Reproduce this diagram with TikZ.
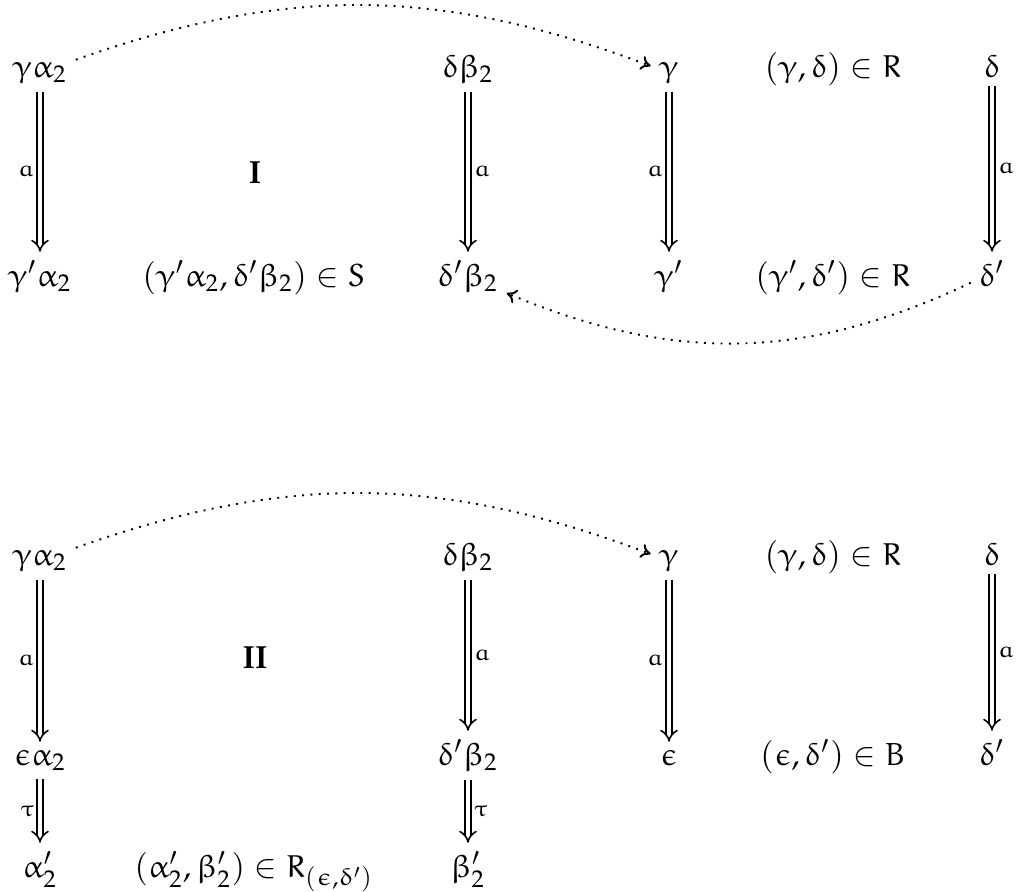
\documentclass[tikz,border=0pt]{standalone}
\usepackage{mathpazo}
\DeclareSymbolFont{eul}{U}{eur}{m}{n}
\DeclareMathSymbol{\eulalpha}{\mathord}{eul}{"0B}
\DeclareMathSymbol{\eulbeta}{\mathord}{eul}{"0C}
\DeclareMathSymbol{\eulgamma}{\mathord}{eul}{"0D}
\DeclareMathSymbol{\euldelta}{\mathord}{eul}{"0E}
\DeclareMathSymbol{\eulepsilon}{\mathord}{eul}{"0F}
\DeclareMathSymbol{\eultau}{\mathord}{eul}{"1C}
\DeclareMathSymbol{\eula}{\mathord}{eul}{"61}
\DeclareMathSymbol{\eulR}{\mathord}{eul}{"52}
\DeclareMathSymbol{\eulS}{\mathord}{eul}{"53}
\DeclareMathSymbol{\eulB}{\mathord}{eul}{"42}
\usetikzlibrary{arrows.meta}
\begin{document}
\begin{tikzpicture}[x=0.3125pt,y=-0.3125pt,
  cell/.style={anchor=base, inner sep=2.5pt},
  dbl/.style={double, double distance=1.4pt, line width=0.5pt, -{Implies}},
  lbl/.style={inner sep=1.5pt, font=\scriptsize},
  roman/.style={anchor=base, font=\usefont{OT1}{ppl}{b}{n}},
  dots/.style={line width=0.6pt, dash pattern=on 0.6pt off 2pt, -{To[length=3pt,width=4.5pt]}}]
\useasboundingbox (0,0) rectangle (1022,891);
% top diagram
\node[cell] (a1) at (40,77) {$\eulgamma\eulalpha_2$};
\node[cell] (b1) at (468,77) {$\euldelta\eulbeta_2$};
\node[cell] (c1) at (669,77) {$\eulgamma$};
\node[cell] (d1) at (833,77) {$(\eulgamma,\euldelta)\in\eulR$};
\node[cell] (e1) at (992,77) {$\euldelta$};
\node[cell] (a2) at (40,286) {$\eulgamma'\eulalpha_2$};
\node[cell] (s2) at (254,286) {$(\eulgamma'\eulalpha_2,\euldelta'\eulbeta_2)\in\eulS$};
\node[cell] (b2) at (468,286) {$\euldelta'\eulbeta_2$};
\node[cell] (c2) at (669,286) {$\eulgamma'$};
\node[cell] (d2) at (833,286) {$(\eulgamma',\euldelta')\in\eulR$};
\node[cell] (e2) at (992,286) {$\euldelta'$};
\node[roman] (one) at (255,183) {I};
\draw[dbl] (a1) -- node[lbl,left]{$\eula$} (a2);
\draw[dbl] (b1) -- node[lbl,right]{$\eula$} (b2);
\draw[dbl] (c1) -- node[lbl,left]{$\eula$} (c2);
\draw[dbl] (e1) -- node[lbl,right]{$\eula$} (e2);
\draw[dots] (a1) to[bend left=20] (c1);
\draw[dots] (e2) to[bend left=24] (b2);
% bottom diagram
\node[cell] (p1) at (40,565) {$\eulgamma\eulalpha_2$};
\node[cell] (q1) at (468,565) {$\euldelta\eulbeta_2$};
\node[cell] (r1) at (669,565) {$\eulgamma$};
\node[cell] (t1) at (833,565) {$(\eulgamma,\euldelta)\in\eulR$};
\node[cell] (u1) at (992,565) {$\euldelta$};
\node[cell] (p2) at (40,765) {$\eulepsilon\eulalpha_2$};
\node[cell] (q2) at (468,765) {$\euldelta'\eulbeta_2$};
\node[cell] (r2) at (669,765) {$\eulepsilon$};
\node[cell] (t2) at (833,765) {$(\eulepsilon,\euldelta')\in\eulB$};
\node[cell] (u2) at (992,765) {$\euldelta'$};
\node[cell] (p3) at (40,877) {$\eulalpha'_2$};
\node[cell] (m3) at (254,877) {$(\eulalpha'_2,\eulbeta'_2)\in\eulR_{(\eulepsilon,\euldelta')}$};
\node[cell] (q3) at (468,877) {$\eulbeta'_2$};
\node[roman] (two) at (255,668) {II};
\draw[dbl] (p1) -- node[lbl,left]{$\eula$} (p2);
\draw[dbl] (q1) -- node[lbl,right]{$\eula$} (q2);
\draw[dbl] (r1) -- node[lbl,left]{$\eula$} (r2);
\draw[dbl] (u1) -- node[lbl,right]{$\eula$} (u2);
\draw[dbl] (p2) -- node[lbl,left]{$\eultau$} (p3);
\draw[dbl] (q2) -- node[lbl,right]{$\eultau$} (q3);
\draw[dots] (p1) to[bend left=20] (r1);
\end{tikzpicture}
\end{document}
